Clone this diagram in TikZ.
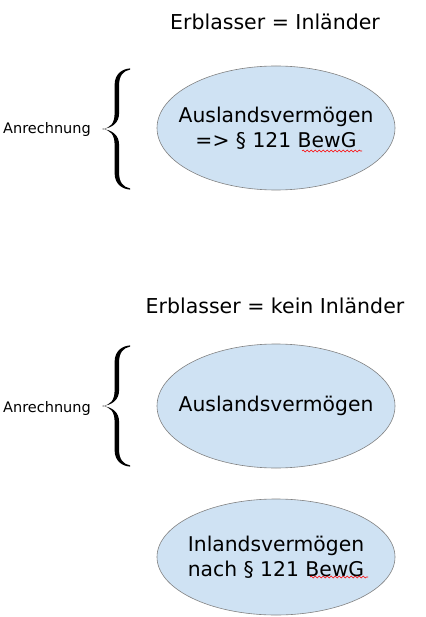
\documentclass[tikz,border=0pt]{standalone}
\usepackage{fontspec}
\setmainfont{DejaVu Sans}
\usetikzlibrary{shapes.geometric,decorations.pathmorphing,calc}
\definecolor{ovalblue}{RGB}{207,226,243}
\definecolor{ovalline}{RGB}{130,130,130}

\begin{document}
\begin{tikzpicture}[x=1pt,y=-1pt,
    oval/.style={ellipse, draw=ovalline, fill=ovalblue, line width=0.6pt,
        minimum width=238pt, minimum height=124pt, inner sep=0pt},
    ovaltext/.style={align=center, inner sep=0pt, font=\fontsize{20.3}{25}\selectfont},
    heading/.style={font=\fontsize{20.5}{24}\selectfont},
    side/.style={font=\fontsize{14.5}{17}\selectfont, anchor=base},
    curly/.pic={
        \foreach \s in {1,-1}
            \fill[yscale=\s] (-15,0) .. controls (-6,-1) and (-2.4,-6) .. (-2.4,-16)
                -- (-2.4,-44) .. controls (-2.4,-55) and (5,-60) .. (13,-60.6)
                -- (13,-59.4) .. controls (6,-58.2) and (2.1,-53) .. (2.1,-44)
                -- (2.1,-16) .. controls (2.1,-6) and (-5,-0.8) .. (-15,0) -- cycle;
    },
    squiggle/.style={red, line width=0.6pt, decorate,
        decoration={snake, amplitude=0.9pt, segment length=4pt}}]
    \useasboundingbox (0,0) rectangle (425,617);

    % Erblasser = Inlaender
    \node[heading] (head1) at (275,22) {Erblasser = Inländer};
    \node[oval] (aus1) at (276,128) {};
    \node[ovaltext] (aus1text) at (aus1.center) {Auslandsvermögen\\=> § 121 BewG};
    \pic at (117,129) {curly};
    \node[side] (anr1) at (47,134) {Anrechnung};

    % Erblasser = kein Inlaender
    \node[heading] (head2) at (275,306) {Erblasser = kein Inländer};
    \node[oval] (aus2) at (276,406) {};
    \node[ovaltext] (aus2text) at (aus2.center) {Auslandsvermögen};
    \pic at (117,406) {curly};
    \node[side] (anr2) at (47,412) {Anrechnung};
    \node[oval, minimum height=116pt] (inl) at (276,557) {};
    \node[ovaltext] (inltext) at (inl.center) {Inlandsvermögen\\nach § 121 BewG};

    % spell check marks
    \draw[squiggle] ($(aus1.center)+(26,23)$) -- ($(aus1.center)+(86,23)$);
    \draw[squiggle] ($(inl.center)+(34,20)$) -- ($(inl.center)+(92,20)$);
\end{tikzpicture}
\end{document}
